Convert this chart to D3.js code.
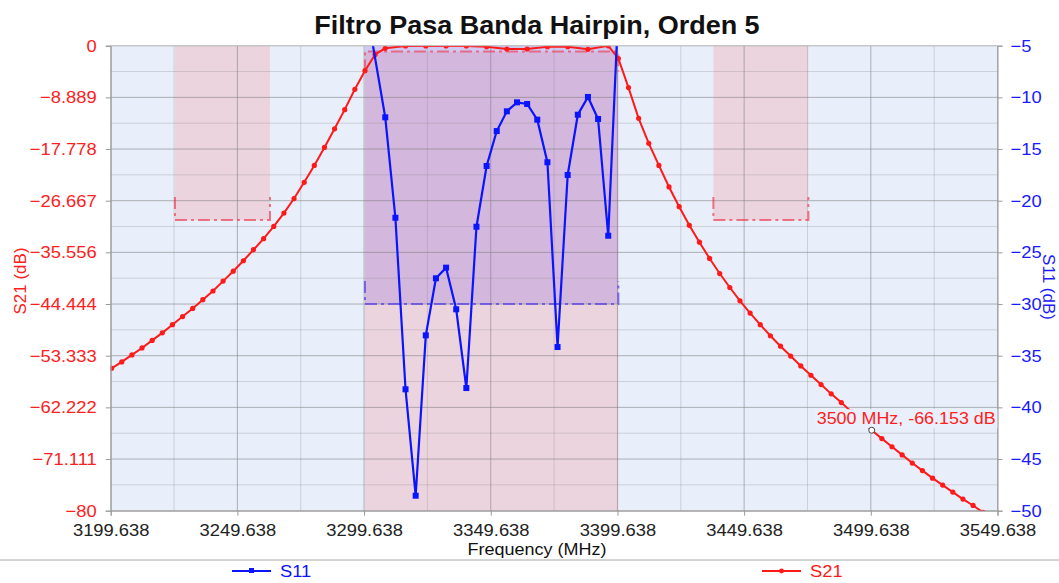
<!DOCTYPE html>
<html>
<head>
<meta charset="utf-8">
<script src="https://cdn.jsdelivr.net/npm/d3@7"></script>
<style>
  body { margin: 0; background: #fff; }
  text { font-family: "Liberation Sans", Arial, sans-serif; }
</style>
</head>
<body>
<div id="chart-area"></div>
<script>
// S21 sweep (MHz, dB)
var s21Freq = [3200, 3204, 3208, 3212, 3216, 3220, 3224, 3228, 3232, 3236, 3240, 3244, 3248, 3252,
    3256, 3260, 3264, 3268, 3272, 3276, 3280, 3284, 3288, 3292, 3296, 3300, 3304, 3308,
    3316, 3324, 3332, 3340, 3348, 3356, 3364, 3372, 3380, 3388, 3396,
    3400, 3404, 3408, 3412, 3416, 3420, 3424, 3428, 3432, 3436, 3440, 3444, 3448, 3452,
    3456, 3460, 3464, 3468, 3472, 3476, 3480, 3484, 3488, 3492, 3496, 3500, 3504, 3508,
    3512, 3516, 3520, 3524, 3528, 3532, 3536, 3540, 3544, 3548];
var s21Db = [-55.5, -54.4, -53.2, -52.0, -50.7, -49.4, -48.0, -46.6, -45.2, -43.7, -42.2, -40.5, -38.8, -37.0,
    -35.1, -33.2, -31.1, -28.8, -26.3, -23.5, -20.6, -17.5, -14.3, -11.0, -7.5, -4.3, -1.5, -0.45,
    -0.05, -0.05, -0.05, -0.05, -0.17, -0.57, -0.57, -0.17, -0.17, -0.62, -0.02,
    -2.2, -7.2, -12.5, -16.8, -20.6, -24.3, -27.7, -30.9, -33.8, -36.6, -39.2, -41.6, -43.9, -46.0,
    -48.0, -49.9, -51.7, -53.4, -55.1, -56.7, -58.3, -59.9, -61.4, -63.0, -64.6, -66.153, -67.6, -69.0,
    -70.4, -71.8, -73.1, -74.4, -75.6, -76.8, -78.0, -79.1, -80.3, -81.4];

// S11 sweep (MHz, dB)
var s11Freq = [3300, 3308, 3312, 3316, 3320, 3324, 3328, 3332, 3336, 3340, 3344, 3348, 3352,
    3356, 3360, 3364, 3368, 3372, 3376, 3380, 3384, 3388, 3392, 3396, 3400];
var s11Db = [-0.5, -11.93, -21.65, -38.25, -48.55, -33.03, -27.51, -26.48, -30.51, -38.13, -22.52, -16.64, -13.26,
    -11.35, -10.48, -10.64, -12.16, -16.28, -34.16, -17.51, -11.68, -9.96, -12.09, -23.39, -1.4];

var leftTicks = [0, -8.889, -17.778, -26.667, -35.556, -44.444, -53.333, -62.222, -71.111, -80];
var rightTicks = [-5, -10, -15, -20, -25, -30, -35, -40, -45, -50];
var freqTicks = [3199.638, 3249.638, 3299.638, 3349.638, 3399.638, 3449.638, 3499.638, 3549.638];

// masks
var stopBands = [[3225, 3262.5], [3437.5, 3475]];
var stopLevel = -30;
var passBand = [3300, 3400];
var passLevelS21 = -1;
var passLevelS11 = -30;

var markerFreq = 3500, markerDb = -66.153;

var margin = { left: 110.7, right: 61.5, top: 45.7, bottom: 72.3 },
    width = 1059 - margin.left - margin.right,
    height = 583 - margin.top - margin.bottom;

var svg = d3.select("#chart-area").append("svg")
    .attr("width", 1059)
    .attr("height", 583);

var g = svg.append("g")
    .attr("transform", "translate(" + margin.left + "," + margin.top + ")");

var x = d3.scaleLinear().domain([3199.638, 3549.638]).range([0, width]);
var yL = d3.scaleLinear().domain([-80, 0]).range([height, 0]);
var yR = d3.scaleLinear().domain([-50, -5]).range([height, 0]);

// text in the source is a bit wider than Liberation Sans
function stretch(sel, k) {
    sel.each(function() {
        var t = d3.select(this);
        var ax = +t.attr("x") || 0, ay = +t.attr("y") || 0;
        t.attr("transform", "translate(" + ax + "," + ay + ") scale(" + k + ",1) translate(" + (-ax) + "," + (-ay) + ")");
    });
}

svg.append("defs").append("clipPath").attr("id", "clip")
    .append("rect").attr("width", width).attr("height", height);

// background
g.append("rect")
    .attr("width", width)
    .attr("height", height)
    .attr("fill", "#e8eefa");

// mask fills
stopBands.forEach(function(b) {
    g.append("rect")
        .attr("x", x(b[0]))
        .attr("y", 0)
        .attr("width", x(b[1]) - x(b[0]))
        .attr("height", yL(stopLevel))
        .attr("fill", "#ecd4de");
});
g.append("rect")
    .attr("x", x(passBand[0]))
    .attr("y", yL(passLevelS21))
    .attr("width", x(passBand[1]) - x(passBand[0]))
    .attr("height", height - yL(passLevelS21))
    .attr("fill", "#ecd4de");
g.append("rect")
    .attr("x", x(passBand[0]))
    .attr("y", 0)
    .attr("width", x(passBand[1]) - x(passBand[0]))
    .attr("height", yR(passLevelS11))
    .attr("fill", "rgb(140,100,222)")
    .attr("fill-opacity", 0.26);

// grid
var grid = g.append("g").attr("class", "grid");
freqTicks.forEach(function(f, i) {
    grid.append("line")
        .attr("x1", x(f)).attr("x2", x(f))
        .attr("y1", 0).attr("y2", height)
        .attr("stroke", "#7a7a7a").attr("stroke-opacity", 0.55);
    if (i < freqTicks.length - 1) {
        var m = x(f) + (x(freqTicks[i + 1]) - x(f)) / 2;
        grid.append("line")
            .attr("x1", m).attr("x2", m)
            .attr("y1", 0).attr("y2", height)
            .attr("stroke", "#8a8a8a").attr("stroke-opacity", 0.3);
    }
});
leftTicks.forEach(function(v, i) {
    grid.append("line")
        .attr("x1", 0).attr("x2", width)
        .attr("y1", yL(v)).attr("y2", yL(v))
        .attr("stroke", "#7a7a7a").attr("stroke-opacity", 0.55);
    if (i < leftTicks.length - 1) {
        var m = yL(v) + (yL(leftTicks[i + 1]) - yL(v)) / 2;
        grid.append("line")
            .attr("x1", 0).attr("x2", width)
            .attr("y1", m).attr("y2", m)
            .attr("stroke", "#8a8a8a").attr("stroke-opacity", 0.3);
    }
});

// mask lines
var dash = "12,4,3,4";
function maskLine(x1, x2, yy, tick, color) {
    g.append("path")
        .attr("d", "M" + x1 + "," + (yy + tick) + "V" + yy + "H" + x2 + "V" + (yy + tick))
        .attr("fill", "none")
        .attr("stroke", color)
        .attr("stroke-width", 2)
        .attr("stroke-dasharray", dash);
}
stopBands.forEach(function(b) {
    maskLine(x(b[0]), x(b[1]), yL(stopLevel), -23, "rgba(240,50,70,0.65)");
});
maskLine(x(passBand[0]), x(passBand[1]), yL(passLevelS21), 20, "rgba(240,50,70,0.6)");
maskLine(x(passBand[0]), x(passBand[1]), yR(passLevelS11), -23, "rgba(80,60,230,0.7)");

// curves
var plot = g.append("g").attr("clip-path", "url(#clip)");

var s21 = s21Freq.map(function(f, i) { return { f: f, v: s21Db[i] }; });
var s11 = s11Freq.map(function(f, i) { return { f: f, v: s11Db[i] }; });

var lineS21 = d3.line()
    .x(function(d) { return x(d.f); })
    .y(function(d) { return yL(d.v); });
var lineS11 = d3.line()
    .x(function(d) { return x(d.f); })
    .y(function(d) { return yR(d.v); });

plot.append("path")
    .datum(s21)
    .attr("d", lineS21)
    .attr("fill", "none")
    .attr("stroke", "#ff1a1a")
    .attr("stroke-width", 2);
plot.selectAll(".dot21")
    .data(s21)
    .enter().append("circle")
        .attr("class", "dot21")
        .attr("cx", function(d) { return x(d.f); })
        .attr("cy", function(d) { return yL(d.v); })
        .attr("r", 2.6)
        .attr("fill", "#ff1a1a");

plot.append("path")
    .datum(s11)
    .attr("d", lineS11)
    .attr("fill", "none")
    .attr("stroke", "#0a14ff")
    .attr("stroke-width", 2.2);
plot.selectAll(".sq11")
    .data(s11)
    .enter().append("rect")
        .attr("class", "sq11")
        .attr("x", function(d) { return x(d.f) - 3; })
        .attr("y", function(d) { return yR(d.v) - 3; })
        .attr("width", 6)
        .attr("height", 6)
        .attr("fill", "#0a14ff");

// marker annotation
var mx = x(markerFreq), my = yL(markerDb);
g.append("rect")
    .attr("x", mx - 58)
    .attr("y", my - 21)
    .attr("width", 185)
    .attr("height", 19)
    .attr("fill", "#eaf0fb");
g.append("text")
    .attr("x", mx - 55)
    .attr("y", my - 6)
    .attr("fill", "#ff2020")
    .attr("font-size", "16.5px")
    .text(markerFreq + " MHz, " + markerDb + " dB")
    .call(stretch, 1.085);
g.append("circle")
    .attr("cx", mx)
    .attr("cy", my)
    .attr("r", 3)
    .attr("fill", "#fff")
    .attr("stroke", "#444")
    .attr("stroke-width", 1);

// axes
var xAxisCall = d3.axisBottom(x)
    .tickValues(freqTicks)
    .tickFormat(function(d) { return d3.format(".3f")(d); })
    .tickSize(5).tickPadding(8);
var xAxis = g.append("g")
    .attr("transform", "translate(0," + height + ")")
    .call(xAxisCall);
xAxis.selectAll("text").attr("fill", "#222").attr("font-size", "17px").call(stretch, 1.08);

var yAxisCall = d3.axisLeft(yL)
    .tickValues(leftTicks)
    .tickFormat(function(d) { return d3.format("~f")(d); })
    .tickSize(5).tickPadding(9);
var yAxis = g.append("g").call(yAxisCall);
yAxis.selectAll("text").attr("fill", "#ff2020").attr("font-size", "17px").call(stretch, 1.08);

var y2AxisCall = d3.axisRight(yR)
    .tickValues(rightTicks)
    .tickSize(5).tickPadding(8);
var y2Axis = g.append("g")
    .attr("transform", "translate(" + width + ",0)")
    .call(y2AxisCall);
y2Axis.selectAll("text").attr("fill", "#1a1aff").attr("font-size", "17px").call(stretch, 1.08);

[xAxis, yAxis, y2Axis].forEach(function(a) {
    a.select(".domain").attr("stroke", "#9a9a9a");
    a.selectAll(".tick line").attr("stroke", "#9a9a9a");
    a.attr("font-family", null);
});

// top border
g.append("line")
    .attr("x1", 0).attr("x2", width)
    .attr("y1", 0).attr("y2", 0)
    .attr("stroke", "#c8c8c8");

// title and labels
svg.append("text")
    .attr("x", 537)
    .attr("y", 34)
    .attr("text-anchor", "middle")
    .attr("font-size", "25px")
    .attr("font-weight", "bold")
    .attr("fill", "#111")
    .text("Filtro Pasa Banda Hairpin, Orden 5")
    .call(stretch, 1.08);

svg.append("text")
    .attr("x", 537)
    .attr("y", 555)
    .attr("text-anchor", "middle")
    .attr("font-size", "17px")
    .attr("fill", "#111")
    .text("Frequency (MHz)")
    .call(stretch, 1.06);

svg.append("text")
    .attr("transform", "translate(26,281) rotate(-90)")
    .attr("text-anchor", "middle")
    .attr("font-size", "17px")
    .attr("fill", "#ff2020")
    .text("S21 (dB)");

svg.append("text")
    .attr("transform", "translate(1043,287) rotate(90)")
    .attr("text-anchor", "middle")
    .attr("font-size", "17px")
    .attr("fill", "#1a1aff")
    .text("S11 (dB)");

// legend
svg.append("line")
    .attr("x1", 0).attr("x2", 1059)
    .attr("y1", 560).attr("y2", 560)
    .attr("stroke", "#a8a8a8");

var legend = [
    { name: "S11", x: 232, color: "#0a14ff", mark: "square" },
    { name: "S21", x: 762, color: "#ff1a1a", mark: "circle" }
];
legend.forEach(function(l) {
    svg.append("line")
        .attr("x1", l.x).attr("x2", l.x + 39)
        .attr("y1", 571).attr("y2", 571)
        .attr("stroke", l.color).attr("stroke-width", 2);
    if (l.mark == "square") {
        svg.append("rect")
            .attr("x", l.x + 17).attr("y", 568)
            .attr("width", 5).attr("height", 5)
            .attr("fill", l.color);
    } else {
        svg.append("circle")
            .attr("cx", l.x + 19.5).attr("cy", 571)
            .attr("r", 2.4)
            .attr("fill", l.color);
    }
    svg.append("text")
        .attr("x", l.x + 48)
        .attr("y", 577)
        .attr("font-size", "17px")
        .attr("fill", l.color)
        .text(l.name)
        .call(stretch, 1.08);
});
</script>
</body>
</html>
